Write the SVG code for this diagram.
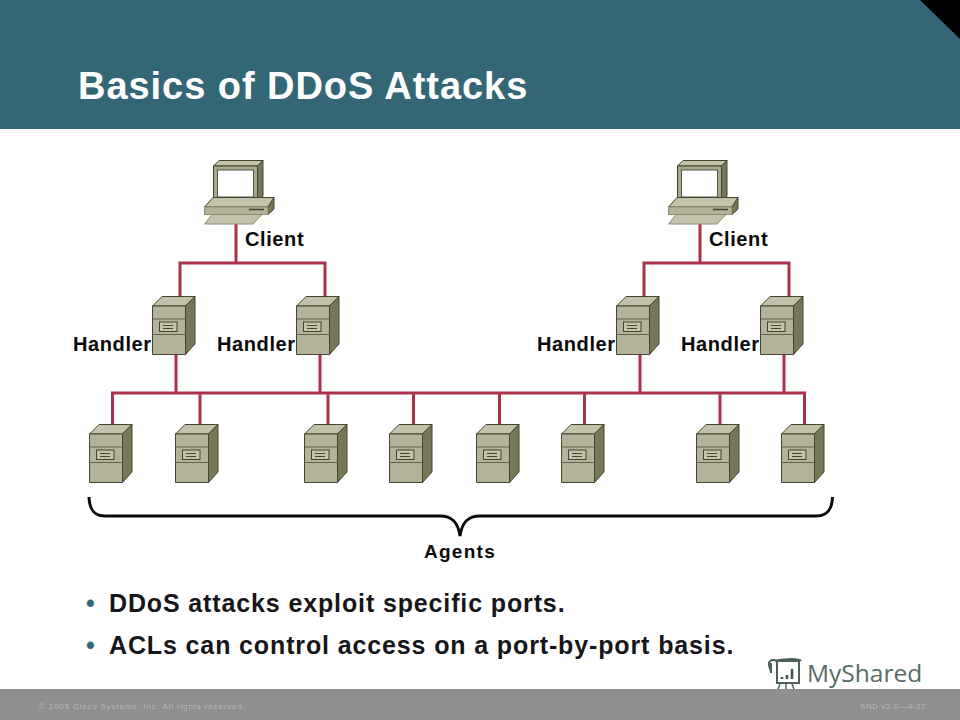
<svg xmlns="http://www.w3.org/2000/svg" width="960" height="720" viewBox="0 0 960 720">
<style>
text{font-family:"Liberation Sans",Arial,sans-serif}
.lbl{font-size:20px;font-weight:bold;fill:#0a0a0a;letter-spacing:.6px}
.bul{font-size:25px;font-weight:bold;fill:#16161a;letter-spacing:.87px}
.dot{fill:#336776}
.foot{font-size:8px;fill:#b9b9b9;letter-spacing:.86px}
.wire{fill:none;stroke:#a9344a;stroke-width:3}
.ol{stroke:#45452f;stroke-width:1;stroke-linejoin:round}
</style>
<defs>
<g id="server">
<path class="ol" d="M0.5 10 L10 0.5 H43 L33.5 10 Z" fill="#c3c2ab"/>
<path class="ol" d="M33.5 10 L43 0.5 V48 L33.5 58.5 Z" fill="#77775a"/>
<rect class="ol" x="0.5" y="10" width="33" height="48.500" fill="#b4b399"/>
<path d="M0.500 23 H33.500 M0.500 38.500 H33.500" stroke="#62624a" stroke-width="1"/>
<rect x="7.500" y="26" width="17.500" height="9.500" fill="#c3c2ab" stroke="#45452f"/>
<path d="M11 29.500 H21 M11 32.500 H21" stroke="#45452f"/>
</g>
<g id="pc">
<path class="ol" d="M9.500 6 L15 0.500 H59 L53.500 6 Z" fill="#c3c2ab"/>
<path class="ol" d="M53.500 6 L59 0.500 V36 L53.500 41 Z" fill="#77775a"/>
<rect class="ol" x="9.500" y="6" width="44" height="35" fill="#a9a88e"/>
<rect x="13.500" y="10" width="36" height="27" fill="#fff" stroke="#55553e"/>
<path class="ol" d="M0.500 47 L9 37.500 H70 L64 47 Z" fill="#c3c2ab"/>
<path class="ol" d="M64 47 L70 37.500 V49 L64 54.500 Z" fill="#77775a"/>
<rect x="0.500" y="47" width="63.500" height="7.500" fill="#b4b399" stroke="#8d8c72"/>
<path d="M45 49.500 H60" stroke="#45452f" stroke-width="1.500"/>
<path d="M0.500 64 L8 54.500 H58 L49 64 Z" fill="#c3c2ab" stroke="#8d8c72" stroke-linejoin="round"/>
</g>
</defs>
<rect width="960" height="720" fill="#fff"/>
<g id="header">
<rect width="960" height="129" fill="#336776"/>
<path d="M920 0 H960 V39 Z" fill="#000"/>
<text x="78" y="99" font-size="38" font-weight="bold" fill="#fff" letter-spacing=".95">Basics of DDoS Attacks</text>
</g>
<g id="connectors">
<path class="wire" d="M236 224 V263 M180 296 V263 H325 V296"/>
<path class="wire" d="M700 224 V263 M644 296 V263 H789 V296"/>
<path class="wire" d="M176 355 V393 M320 355 V393 M640 355 V393 M784 355 V393"/>
<path class="wire" d="M112.500 424 V393 H804.500 V424"/>
<path class="wire" d="M200 393 V424 M328 393 V424 M413.500 393 V424 M499.500 393 V424 M584.500 393 V424 M720 393 V424"/>
</g>
<g id="client-1"><use href="#pc" x="204" y="160"/><text class="lbl" x="245" y="246">Client</text></g>
<g id="client-2"><use href="#pc" x="668" y="160"/><text class="lbl" x="709" y="246">Client</text></g>
<g id="handler-1"><text class="lbl" x="73" y="351">Handler</text><use href="#server" x="152" y="296"/></g>
<g id="handler-2"><text class="lbl" x="217" y="351">Handler</text><use href="#server" x="296" y="296"/></g>
<g id="handler-3"><text class="lbl" x="537" y="351">Handler</text><use href="#server" x="616" y="296"/></g>
<g id="handler-4"><text class="lbl" x="681" y="351">Handler</text><use href="#server" x="760" y="296"/></g>
<g id="agent-1"><use href="#server" x="89" y="424"/></g>
<g id="agent-2"><use href="#server" x="175" y="424"/></g>
<g id="agent-3"><use href="#server" x="304" y="424"/></g>
<g id="agent-4"><use href="#server" x="389" y="424"/></g>
<g id="agent-5"><use href="#server" x="476" y="424"/></g>
<g id="agent-6"><use href="#server" x="561" y="424"/></g>
<g id="agent-7"><use href="#server" x="696" y="424"/></g>
<g id="agent-8"><use href="#server" x="781" y="424"/></g>
<g id="agents-brace">
<path d="M89 497 C89.500 510 94 516 105 516 H440 C452 516 458 522 460 536 C462 522 468 516 480 516 H816 C827 516 832 510 832.500 497" fill="none" stroke="#0a0a0a" stroke-width="3"/>
<text class="lbl" x="460" y="558" text-anchor="middle" style="font-size:19px;letter-spacing:1.300px">Agents</text>
</g>
<g id="bullets">
<text class="bul dot" x="86" y="612" style="fill:#336776">•</text>
<text class="bul" x="109" y="612">DDoS attacks exploit specific ports.</text>
<text class="bul dot" x="86" y="654" style="fill:#336776">•</text>
<text class="bul" x="109" y="654">ACLs can control access on a port-by-port basis.</text>
</g>
<g id="footer">
<rect y="689" width="960" height="31" fill="#8f8f8f"/>
<text class="foot" x="39" y="709">© 2005 Cisco Systems, Inc. All rights reserved.</text>
<text class="foot" x="860" y="709" style="letter-spacing:.6px">SND v2.0—4-22</text>
</g>
<g id="logo">
<path d="M771 663 V673 M777 661 H799 V683 H777 V663 C777 659 770 659 769 663 C768 667 771 668 771 673 M775 661 C778 659 800 658 801 661" fill="none" stroke="#4d5f5a" stroke-width="2"/>
<path d="M782 677 V679 M787 675 V679 M792 669 V679" stroke="#3f514c" stroke-width="2.500"/>
<path d="M780 684 L778 689 M786 684 V689 M792 684 L794 689" stroke="#4d5f5a" stroke-width="1.500"/>
<text x="807" y="682" font-size="24.500" fill="#566b66" style="font-family:'Open Sans',sans-serif">MyShared</text>
</g>
</svg>
